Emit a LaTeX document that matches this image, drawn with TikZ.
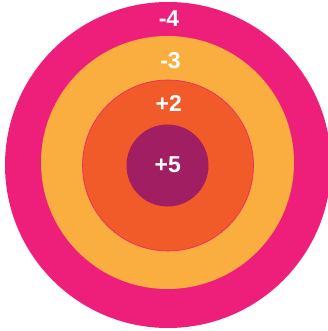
\documentclass[tikz,border=0pt]{standalone}
\usepackage{fontspec}
\setmainfont{Liberation Sans}
\definecolor{cpink}{HTML}{EE1F7A}
\definecolor{cyellow}{HTML}{FBAE40}
\definecolor{corange}{HTML}{F15A29}
\definecolor{cpurple}{HTML}{A01E61}
\tikzset{
  ring/.style={circle, inner sep=0pt, draw=none},
  lbl/.style={text=white, font=\fontsize{23}{25}\selectfont\bfseries, inner sep=0pt}
}
\begin{document}
\begin{tikzpicture}[x=1pt,y=-1pt]
\useasboundingbox (0,0) rectangle (328,331);
\clip (0,0) rectangle (328,331);
\node[ring, fill=cpink, minimum size=326pt] (outer) at (168,165) {};
\node[ring, fill=cyellow, minimum size=253pt] (yellow) at (167.5,162.5) {};
\node[ring, fill=corange, draw=cpink, line width=0.6pt, minimum size=171pt] (orange) at (168,165.5) {};
\node[ring, fill=cpurple, minimum size=82pt] (purple) at (167.5,165.5) {};
\node[lbl] (l4) at (169,19) {-4};
\node[lbl] (l3) at (170.5,60.5) {-3};
\node[lbl] (l2) at (168.8,103.5) {+2};
\node[lbl] (l5) at (167.8,164.5) {+5};
\end{tikzpicture}
\end{document}
